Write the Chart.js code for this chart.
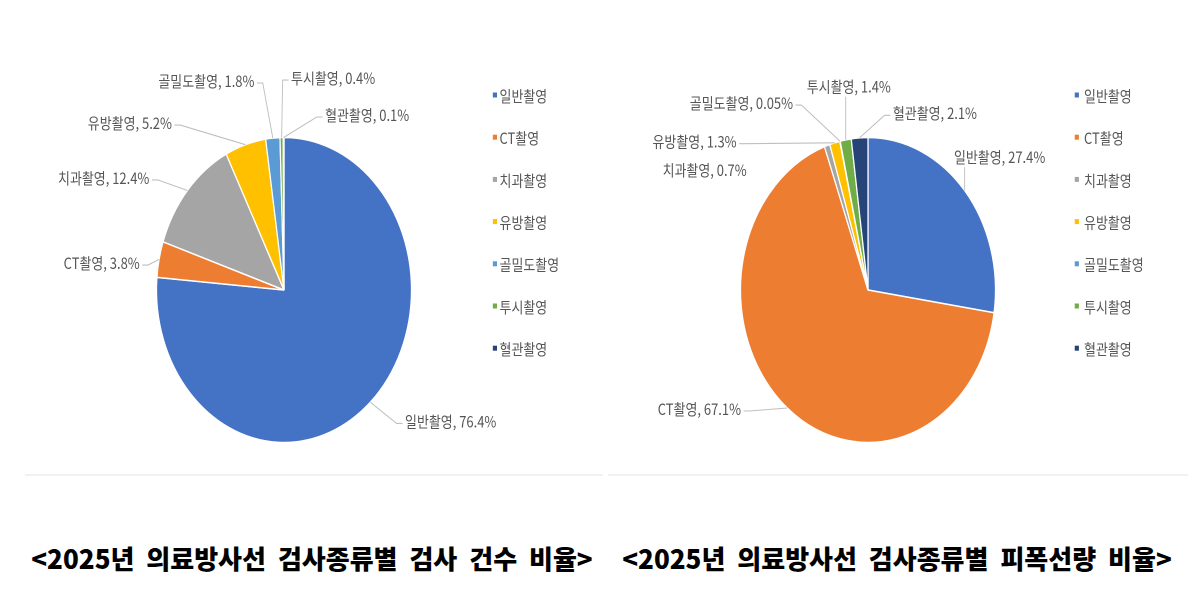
<!DOCTYPE html>
<html>
<head>
<meta charset="utf-8">
<script src="https://cdn.jsdelivr.net/npm/chart.js@4/dist/chart.umd.min.js"></script>
<style>
html,body{margin:0;padding:0;background:#fff;width:1200px;height:615px;overflow:hidden}
.box{position:absolute;top:0;width:600px;height:475px}
#b1{left:0}
#b2{left:600px}
.sep{position:absolute;top:474px;height:2px;background:#f1f1f1}
.title{position:absolute;top:539px;height:38px;line-height:38px;font-family:"Noto Sans CJK KR";font-weight:900;font-size:26px;color:#000;white-space:nowrap;transform:translateX(-50%);word-spacing:6px}
</style>
</head>
<body>
<div class="box" id="b1"><canvas id="c1" width="600" height="475"></canvas></div>
<div class="box" id="b2"><canvas id="c2" width="600" height="475"></canvas></div>
<div class="sep" style="left:25px;width:578px"></div>
<div class="sep" style="left:608px;width:580px"></div>
<div class="title" id="t1" style="left:312px"></div>
<div class="title" id="t2" style="left:897px"></div>
<script>
// ---- data ----
const categories = ['일반촬영', 'CT촬영', '치과촬영', '유방촬영', '골밀도촬영', '투시촬영', '혈관촬영'];
const countShare = [76.4, 3.8, 12.4, 5.2, 1.8, 0.4, 0.1];     // 검사 건수 비율 (%)
const doseShare  = [27.4, 67.1, 0.7, 1.3, 0.05, 1.4, 2.1];    // 피폭선량 비율 (%)
const titleCount = '<2025년 의료방사선 검사종류별 검사 건수 비율>';
const titleDose  = '<2025년 의료방사선 검사종류별 피폭선량 비율>';

// ---- styles ----
const sliceColors = ['#4472C4', '#ED7D31', '#A5A5A5', '#FFC000', '#5B9BD5', '#70AD47', '#264478'];
const FONT = '15.5px "Noto Sans CJK KR"';
const SQUEEZE = 0.836;   // horizontal squeeze of the original picture

document.getElementById('t1').textContent = titleCount;
document.getElementById('t2').textContent = titleDose;

const calloutPlugin = {
  id: 'callouts',
  beforeDatasetsDraw(chart) {
    const ctx = chart.ctx;
    const cx = (chart.chartArea.left + chart.chartArea.right) / 2;
    ctx.save();
    ctx.translate(cx, 0);
    ctx.scale(SQUEEZE, 1);
    ctx.translate(-cx, 0);
  },
  afterDatasetsDraw(chart, args, opts) {
    const ctx = chart.ctx;
    const meta = chart.getDatasetMeta(0);
    const ds = chart.data.datasets[0];
    ctx.font = FONT;
    ctx.textBaseline = 'middle';
    let cx = 0;
    meta.data.forEach((arc, i) => {
      const p = arc.getProps(['x', 'y', 'startAngle', 'endAngle', 'outerRadius'], true);
      cx = p.x;
      const mid = (p.startAngle + p.endAngle) / 2;
      const ax = p.x + Math.cos(mid) * p.outerRadius;
      const ay = p.y + Math.sin(mid) * p.outerRadius;
      const L = opts.labels[i];
      const tx = ax + L.dx, ty = ay + L.dy;
      const text = chart.data.labels[i] + ', ' + ds.data[i] + '%';
      ctx.strokeStyle = '#bfbfbf';
      ctx.lineWidth = 1.1;
      if (L.leader === 'v') {
        ctx.beginPath();
        ctx.moveTo(ax, ay);
        ctx.lineTo(ax, ty + 10);
        ctx.stroke();
      } else if (L.leader !== false) {
        const side = L.align === 'left' ? -1 : 1;
        const px = tx + side * 3, ex = px + side * 7, ly = ty + 2;
        ctx.beginPath();
        ctx.moveTo(ax, ay);
        ctx.lineTo(ex, ly);
        ctx.lineTo(px, ly);
        ctx.stroke();
      }
      ctx.textAlign = L.align;
      ctx.fillStyle = '#555555';
      ctx.fillText(text, tx, ty);
    });
    // legend
    const lg = opts.legend;
    ctx.textAlign = 'left';
    chart.data.labels.forEach((lab, i) => {
      const y = lg.y0 + lg.step * i;
      ctx.fillStyle = ds.backgroundColor[i];
      ctx.fillRect(cx + lg.x, y - 3, 5, 5);
      ctx.fillStyle = '#555555';
      ctx.fillText(lab, cx + lg.textX, y + 0.5);
    });
    ctx.restore();
  }
};

function makePie(id, values, padding, labels, legend) {
  return new Chart(document.getElementById(id), {
    type: 'pie',
    data: {
      labels: categories,
      datasets: [{
        data: values,
        backgroundColor: sliceColors,
        borderColor: '#ffffff',
        borderWidth: 1.5,
        radius: 152.5
      }]
    },
    options: {
      responsive: false,
      animation: false,
      devicePixelRatio: 2,
      events: [],
      layout: { padding: padding },
      plugins: {
        legend: { display: false },
        tooltip: { enabled: false },
        title: { display: false },
        callouts: { labels: labels, legend: legend }
      }
    },
    plugins: [calloutPlugin]
  });
}

makePie('c1', countShare,
  { left: 0, right: 32, top: 105, bottom: 0 },
  [
    { dx: 41.5, dy: 19.2, align: 'left' },
    { dx: -23.2, dy: 3.7, align: 'right' },
    { dx: -45.5, dy: -12.6, align: 'right' },
    { dx: -87.9, dy: -21.6, align: 'right' },
    { dx: -22, dy: -57.1, align: 'right' },
    { dx: 11.3, dy: -59.5, align: 'left' },
    { dx: 49.6, dy: -22.5, align: 'left' }
  ],
  { x: 249.8, textX: 257.8, y0: 95.5, step: 42.2 });

makePie('c2', doseShare,
  { left: 0, right: 64, top: 105, bottom: 0 },
  [
    { dx: -12.8, dy: -33.3, align: 'left', leader: 'v' },
    { dx: -55.3, dy: 1, align: 'right' },
    { dx: -96.2, dy: 24.4, align: 'right', leader: false },
    { dx: -117.4, dy: -1.1, align: 'right' },
    { dx: -56.2, dy: -38.2, align: 'right' },
    { dx: -46.6, dy: -53.2, align: 'left', leader: 'v' },
    { dx: 39.8, dy: -24.5, align: 'left' }
  ],
  { x: 247.3, textX: 258.4, y0: 95.5, step: 42.2 });
</script>
</body>
</html>
